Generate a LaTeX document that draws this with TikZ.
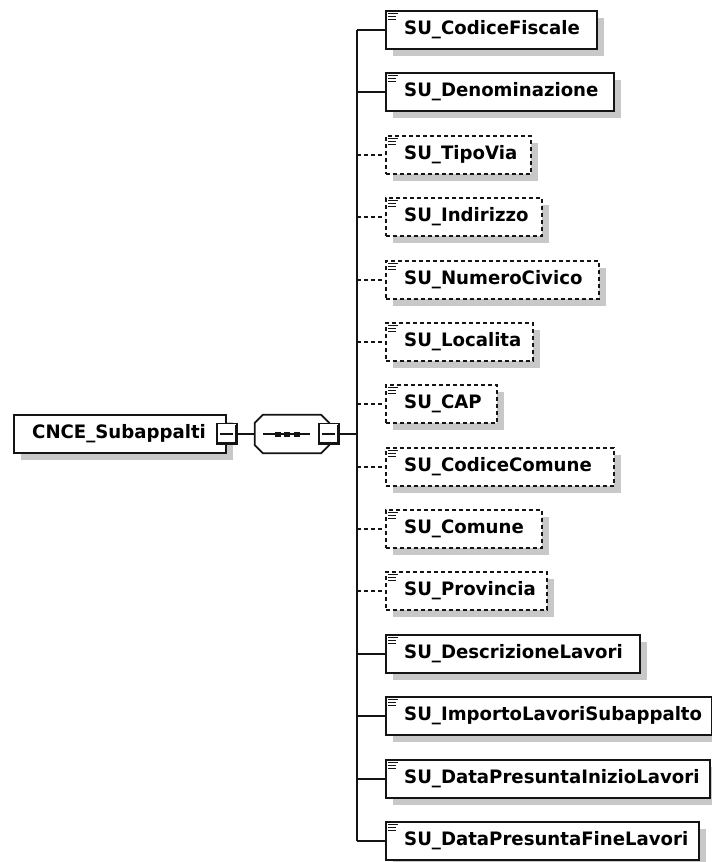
\documentclass[tikz,border=0pt]{standalone}
\usepackage{fontspec}
\newfontfamily\elfont[FakeStretch=0.98]{DejaVu Sans}
\usetikzlibrary{shadows,calc}
\definecolor{shadowgray}{RGB}{200,200,200}
\definecolor{edge}{RGB}{20,20,20}
\tikzset{
  elbox/.style={draw=edge, line width=1.8pt, fill=white, minimum height=38pt, inner sep=0pt, anchor=west,
    drop shadow={shadow xshift=7pt, shadow yshift=-7pt, fill=shadowgray, opacity=1}},
  optbox/.style={elbox, dash pattern=on 4pt off 3pt},
  eltext/.style={anchor=west, inner sep=0pt, font=\elfont\bfseries\fontsize{18.5pt}{21pt}\selectfont, text=black},
  conn/.style={line width=1.8pt, draw=edge},
  optconn/.style={conn, dash pattern=on 4pt off 3pt},
  iconline/.style={line width=1.2pt, draw=edge},
  minusbtn/.style={draw=edge, line width=1.5pt, fill=white, minimum width=20pt, minimum height=21pt, inner sep=0pt},
}
\begin{document}
\begin{tikzpicture}[x=1pt,y=-1pt]
\useasboundingbox (0,0) rectangle (712,862);
\fill[white] (0,0) rectangle (712,862);
\coordinate (tk) at (357,0);

% children
\foreach \i/\name/\r/\st in {
  1/SU\_CodiceFiscale/596/elbox,
  2/SU\_Denominazione/613/elbox,
  3/SU\_TipoVia/530/optbox,
  4/SU\_Indirizzo/541/optbox,
  5/SU\_NumeroCivico/598/optbox,
  6/SU\_Localita/532/optbox,
  7/SU\_CAP/496/optbox,
  8/SU\_CodiceComune/613/optbox,
  9/SU\_Comune/541/optbox,
  10/SU\_Provincia/546/optbox,
  11/SU\_DescrizioneLavori/639/elbox,
  12/SU\_ImportoLavoriSubappalto/711/elbox,
  13/SU\_DataPresuntaInizioLavori/709/elbox,
  14/SU\_DataPresuntaFineLavori/698/elbox}{
  \pgfmathsetmacro{\yy}{round(30+(\i-1)*62.38)}
  \pgfmathsetmacro{\ww}{\r-385}
  \node[\st, minimum width=\ww pt] (e\i) at (385,\yy) {};
  \node[eltext] (t\i) at ($(e\i.west)+(19,0)$) {\name};
  \draw[iconline] ($(e\i.north west)+(3,3.5)$) -- ($(e\i.north west)+(13,3.5)$);
  \draw[iconline] ($(e\i.north west)+(3,6.5)$) -- ($(e\i.north west)+(11,6.5)$);
  \draw[iconline] ($(e\i.north west)+(3,9.5)$) -- ($(e\i.north west)+(11,9.5)$);
}

% trunk and stubs
\draw[conn] (tk |- e1.west) -- (tk |- e14.west);
\foreach \i in {1,2,11,12,13,14}{\draw[conn] (tk |- e\i.west) -- (e\i.west);}
\foreach \i in {3,...,10}{\draw[optconn] (tk |- e\i.west) -- (e\i.west);}

% root element
\node[elbox, minimum width=212pt] (root) at (13,434) {};
\node[eltext] (rt) at ($(root.west)+(19,0)$) {CNCE\_Subappalti};

% sequence compositor
\node[minimum width=74pt, minimum height=38pt, inner sep=0pt] (seq) at (292,434) {};
\fill[shadowgray, shift={(7,6)}]
  ($(seq.north west)+(8,0)$) -- ($(seq.north east)+(-8,0)$) -- ($(seq.north east)+(0,8)$) --
  ($(seq.south east)+(0,-8)$) -- ($(seq.south east)+(-8,0)$) -- ($(seq.south west)+(8,0)$) --
  ($(seq.south west)+(0,-8)$) -- ($(seq.north west)+(0,8)$) -- cycle;
\filldraw[fill=white, draw=edge, line width=1.8pt]
  ($(seq.north west)+(8,0)$) -- ($(seq.north east)+(-8,0)$) -- ($(seq.north east)+(0,8)$) --
  ($(seq.south east)+(0,-8)$) -- ($(seq.south east)+(-8,0)$) -- ($(seq.south west)+(8,0)$) --
  ($(seq.south west)+(0,-8)$) -- ($(seq.north west)+(0,8)$) -- cycle;
\draw[line width=1.5pt, draw=edge] ($(seq.west)+(8,0)$) -- ($(seq.west)+(55,0)$);
\foreach \dx in {23,32.5,42}{
  \fill[edge] ($(seq.west)+(\dx-3,-2.5)$) rectangle ($(seq.west)+(\dx+3,2.5)$);
}

% minus buttons
\node[minusbtn] (m1) at (root.east) {};
\node[minusbtn] (m2) at (seq.east) {};
\foreach \m in {m1,m2}{
  \draw[line width=2pt, draw=edge] ($(\m.north east)+(-2,2)$) -- ($(\m.south east)+(-2,-2)$) -- ($(\m.south west)+(2,-2)$);
  \draw[line width=1.2pt, draw=edge] ($(\m.west)+(4,0)$) -- ($(\m.east)+(-5,0)$);
}

% connectors
\draw[conn] (m1.east) -- (seq.west);
\draw[conn] (m2.east) -- (tk |- m2.east);
\end{tikzpicture}
\end{document}
